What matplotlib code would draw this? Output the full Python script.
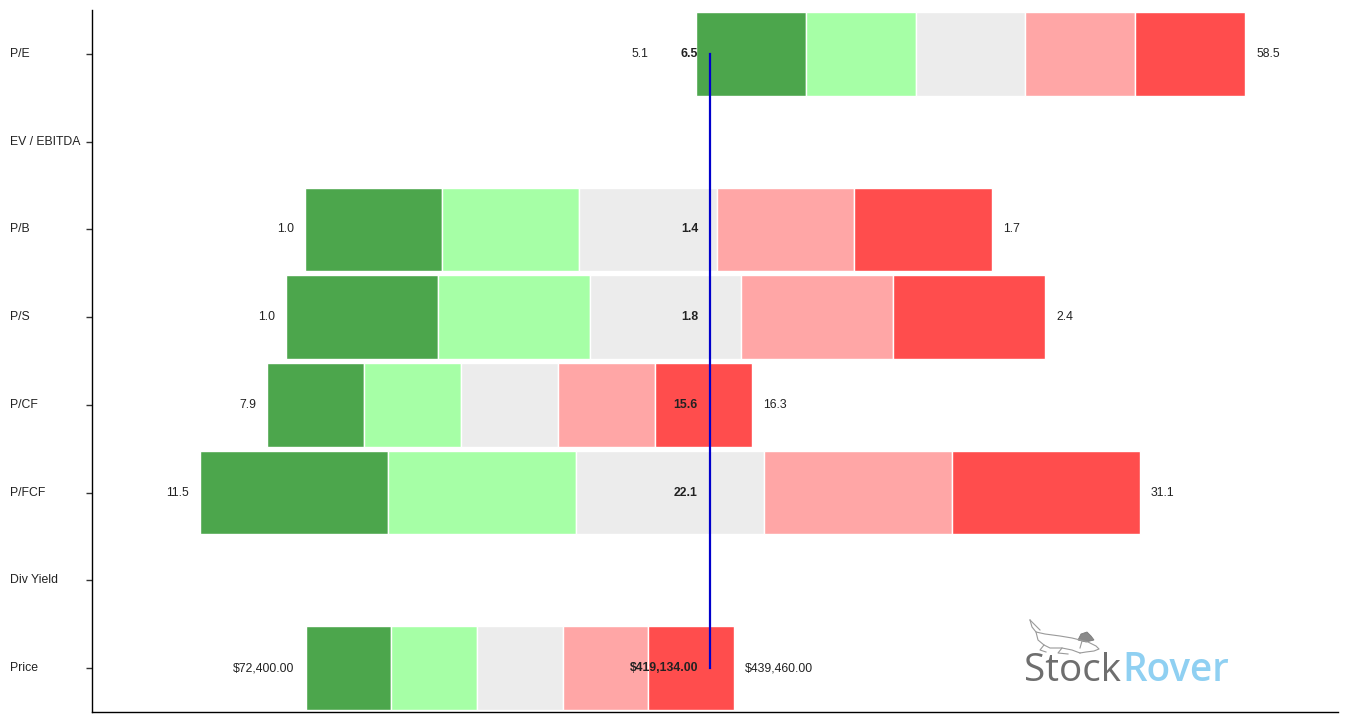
import matplotlib
matplotlib.use("Agg")
import matplotlib.pyplot as plt
from matplotlib.transforms import blended_transform_factory
from matplotlib.lines import Line2D
from matplotlib.patches import Polygon

# ---- data ----
categories = ["P/E", "EV / EBITDA", "P/B", "P/S", "P/CF", "P/FCF", "Div Yield", "Price"]
min_vals = [5.1, None, 1.0, 1.0, 7.9, 11.5, None, 72400.00]
max_vals = [58.5, None, 1.7, 2.4, 16.3, 31.1, None, 439460.00]
cur_vals = [6.46, None, 1.413, 1.782, 15.57, 22.14, None, 419134.00]
# displayed span of each bar (axis units)
spans = [549, None, 687, 759, 485, 940, None, 428]
money_rows = ["Price"]

colors = ["#4CA64C", "#A6FFA6", "#ECECEC", "#FFA6A6", "#FF4D4D"]

W, H = 1349, 723
fig = plt.figure(figsize=(W / 100, H / 100), dpi=100)
ax = fig.add_axes([92 / W, 11 / H, (1338 - 92) / W, (712 - 10) / H])

n = len(categories)
ax.set_ylim(n - 0.5, -0.5)
ax.set_xlim(-618, 628)

def fmt(v, cat):
    if cat in money_rows:
        return "${:,.2f}".format(v)
    return "{:.1f}".format(v)

FS = 8.8
txt_kw = dict(fontsize=FS, color="#222222", family="Liberation Sans", va="center")
for i, cat in enumerate(categories):
    if min_vals[i] is None:
        continue
    lo, hi, cur, span = min_vals[i], max_vals[i], cur_vals[i], spans[i]
    left = -(cur - lo) / (hi - lo) * span
    seg = span / 5.0
    for k in range(5):
        ax.barh(i, seg, left=left + k * seg, height=0.95, color=colors[k],
                edgecolor="white", linewidth=1.0, zorder=2)
    right = left + span
    min_x = min(left - 11, -62)
    ax.text(min_x, i, fmt(lo, cat), ha="right", zorder=4, **txt_kw)
    ax.text(right + 11, i, fmt(hi, cat), ha="left", zorder=4, **txt_kw)
    ax.text(-12, i, fmt(cur, cat), ha="right", fontweight="bold", zorder=4, **txt_kw)

# current-value reference line
valid = [i for i in range(n) if min_vals[i] is not None]
ax.plot([0, 0], [valid[0], valid[-1]], color="#0000CC", linewidth=1.6, zorder=3)

# axes styling
for s in ["top", "right"]:
    ax.spines[s].set_visible(False)
for s in ["left", "bottom"]:
    ax.spines[s].set_color("#000000")
    ax.spines[s].set_linewidth(1.0)
ax.set_xticks([])
ax.set_yticks(range(n))
ax.set_yticklabels([])
ax.tick_params(axis="y", length=4, width=1, color="#333333")

tr = blended_transform_factory(fig.transFigure, ax.transData)
for i, cat in enumerate(categories):
    ax.text(10 / W, i, cat, transform=tr, ha="left", va="center",
            fontsize=FS, color="#222222", family="Liberation Sans")

# logo
t1 = fig.text(1024 / W, (H - 671) / H, "Stock", fontsize=27.8, color="#6E6E6E",
              family="Open Sans", ha="left", va="center")
fig.canvas.draw()
bb = t1.get_window_extent()
fig.text((bb.x1 + 1) / W, (H - 671) / H, "Rover", fontsize=27.8, color="#8FD0F2",
         family="Open Sans", fontweight="semibold", ha="left", va="center")

# dog sketch (decoration)
def P(x, y):
    return (x / W, (H - y) / H)

dog_lines = [
    [(1030, 620), (1032, 627), (1036, 632), (1045, 634), (1060, 636), (1072, 638), (1080, 640)],
    [(1030, 620), (1034, 624), (1040, 630)],
    [(1036, 632), (1038, 640), (1044, 645), (1050, 648), (1062, 648), (1072, 650), (1080, 653)],
    [(1044, 645), (1040, 650), (1046, 652)],
    [(1062, 648), (1058, 653), (1068, 654)],
    [(1080, 640), (1088, 642), (1096, 646), (1099, 649), (1094, 651), (1086, 652), (1080, 653)],
    [(1082, 641), (1080, 648)],
]
for pts in dog_lines:
    xs = [P(*p)[0] for p in pts]
    ys = [P(*p)[1] for p in pts]
    fig.add_artist(Line2D(xs, ys, transform=fig.transFigure, color="#9A9A9A", linewidth=0.8))
hat = Polygon([P(1078, 640), P(1081, 634), P(1087, 632), P(1091, 636), P(1094, 640), P(1086, 642)],
              closed=True, transform=fig.transFigure, facecolor="#8A8A8A", edgecolor="#7A7A7A", linewidth=0.6)
fig.add_artist(hat)

fig.savefig("out.png", dpi=100, facecolor="white")
